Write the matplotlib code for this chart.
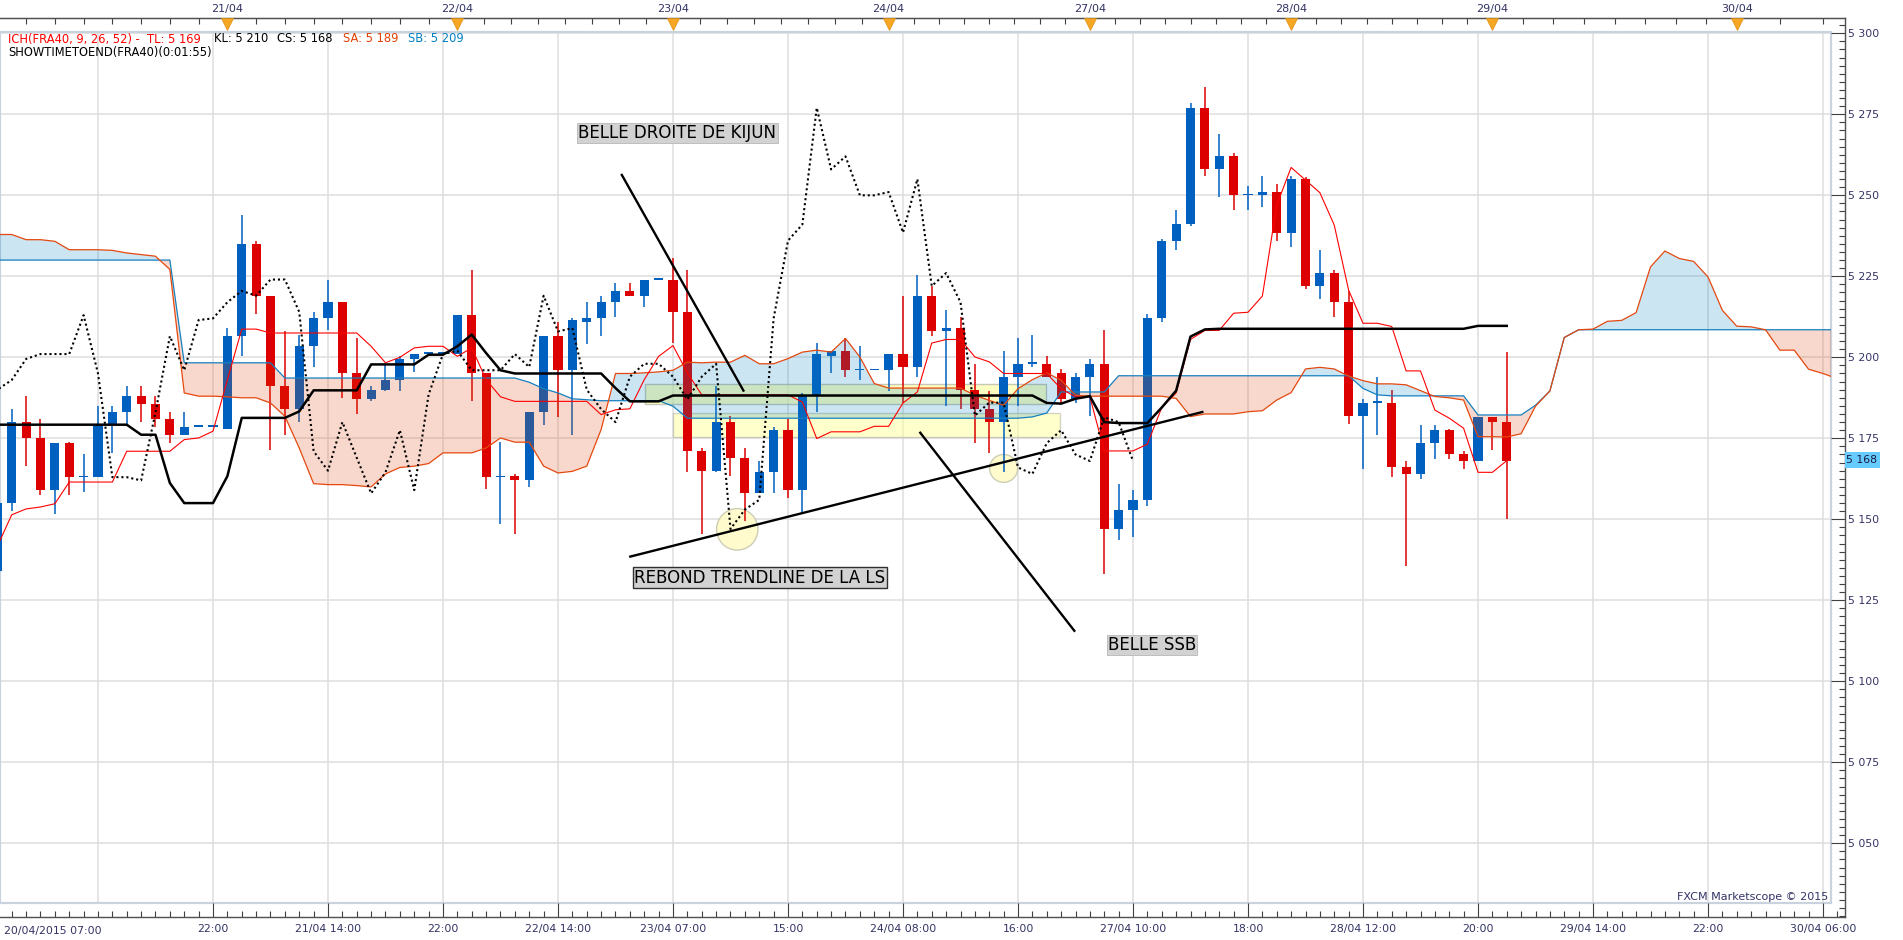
import numpy as np
import matplotlib
matplotlib.use("Agg")
import matplotlib.pyplot as plt
import matplotlib.transforms as mtransforms
from matplotlib.patches import Rectangle, Ellipse

plt.rcParams['font.family'] = ['DejaVu Sans']

# FRA40 candles, bar index -1 .. 104 (index based time axis like Marketscope)
bars = list(range(-1, 105))
opens = [5134, 5155, 5180, 5175, 5159, 5173.5, 5163, 5163, 5179.5, 5183,
         5188, 5185.5, 5181, 5176, 5178.5, 5178.5, 5178, 5206.5, 5235, 5219,
         5191, 5184, 5203.5, 5212, 5217, 5195, 5187, 5190, 5193, 5199.5,
         5201, 5201, 5201, 5213, 5195, 5163, 5163.5, 5162, 5183, 5206.5,
         5196, 5211, 5212, 5217, 5220.5, 5219, 5224, 5224, 5214, 5171,
         5165, 5180, 5169, 5158, 5164.5, 5177.5, 5159, 5188.5, 5200.5, 5202,
         5196, 5196, 5196, 5201, 5197, 5219, 5208, 5209, 5190, 5184,
         5180, 5194, 5198, 5198, 5195, 5187, 5194, 5198, 5147, 5153,
         5156, 5212, 5236, 5241, 5277, 5258, 5262, 5250, 5250, 5251,
         5238.5, 5255, 5222, 5226, 5217, 5182, 5186, 5186, 5166, 5164,
         5173.5, 5177.5, 5170, 5168, 5181.5, 5180]
highs = [5157, 5184, 5188, 5181, 5173.5, 5174, 5170, 5185, 5185, 5191,
         5191, 5188, 5183, 5183, 5178.5, 5178.5, 5209, 5244, 5236, 5219,
         5208, 5207, 5214, 5224, 5217, 5206, 5191, 5198, 5200.5, 5201,
         5201, 5201, 5213, 5227, 5195, 5174, 5164, 5183, 5206.5, 5211,
         5212, 5217, 5219, 5223, 5223, 5224, 5224, 5230.5, 5227, 5172,
         5191, 5182, 5172, 5168, 5178.5, 5181, 5189, 5204.5, 5202, 5206,
         5203.5, 5196, 5201, 5219, 5225.5, 5222, 5214.5, 5212.5, 5198, 5189.5,
         5202, 5206, 5207, 5200.5, 5196.5, 5195, 5199.5, 5208.5, 5161, 5159,
         5213.5, 5236.5, 5245.5, 5278.5, 5283.5, 5269, 5263, 5253, 5256, 5253.5,
         5256, 5255.5, 5233, 5227, 5220.5, 5187, 5194, 5190, 5168, 5179,
         5179, 5178, 5171, 5181.5, 5181.5, 5201.5]
lows = [5133, 5152.5, 5166.5, 5157.5, 5151.5, 5157.5, 5158.5, 5163, 5170.5, 5179,
        5180, 5178.5, 5173.5, 5176, 5178.5, 5178.5, 5178, 5200.5, 5213.5, 5171.5,
        5176, 5180, 5197, 5208.5, 5187.5, 5182.5, 5186.5, 5189.5, 5189.5, 5195.5,
        5201, 5201, 5201, 5186.5, 5159.5, 5148.5, 5145.5, 5160, 5179, 5181.5,
        5176, 5204, 5206.5, 5212.5, 5219, 5215.5, 5224, 5204.5, 5164.5, 5145.5,
        5164.5, 5163.5, 5149.5, 5158, 5158, 5156.5, 5152, 5183, 5195, 5194,
        5193, 5196, 5189.5, 5186, 5194, 5206.5, 5185, 5184, 5173.5, 5170.5,
        5164.5, 5185, 5197, 5194, 5186, 5186, 5182, 5133, 5143.5, 5144.5,
        5154, 5211, 5233, 5240.5, 5256, 5249.5, 5245.5, 5245.5, 5246.5, 5236,
        5234, 5221, 5218, 5212.5, 5179.5, 5165.5, 5176, 5163, 5135.5, 5162.5,
        5168.5, 5168.5, 5165.5, 5168, 5171.5, 5150]
closes = [5155, 5180, 5175, 5159, 5173.5, 5163, 5163, 5179, 5183, 5188,
          5185.5, 5181, 5176, 5178.5, 5178.5, 5178.5, 5206.5, 5235, 5219, 5191,
          5184, 5203.5, 5212, 5217, 5195, 5187, 5190, 5193, 5199.5, 5201,
          5201, 5201, 5213, 5195, 5163, 5163, 5162, 5183, 5206.5, 5196,
          5211.5, 5212, 5217, 5220.5, 5219, 5224, 5224, 5214, 5171, 5165,
          5180, 5169, 5158, 5164.5, 5177.5, 5159, 5188.5, 5201, 5202, 5196,
          5196, 5196, 5201, 5197, 5219, 5208, 5209, 5190, 5184, 5180,
          5194, 5198, 5198, 5194, 5187, 5194, 5198, 5147, 5153, 5156,
          5212, 5236, 5241, 5277, 5258, 5262, 5250, 5250, 5251, 5238.5,
          5255, 5222, 5226, 5217, 5182, 5186, 5186, 5166, 5164, 5173.5,
          5177.5, 5170, 5168, 5181.5, 5180, 5168]

# Ichimoku lines (same bar index)
tenkan = [5141.7, 5151.4, 5153.2, 5153.8, 5154.8, 5161.5, 5161.5, 5161.5, 5161.5, 5171.0,
          5171.0, 5171.0, 5171.0, 5174.6, 5175.1, 5177.2, 5193.0, 5208.7, 5208.7, 5207.5,
          5207.5, 5207.5, 5207.5, 5207.5, 5207.5, 5207.5, 5203.4, 5198.3, 5200.0, 5202.9,
          5203.4, 5203.4, 5200.3, 5202.9, 5193.1, 5187.8, 5186.4, 5186.4, 5186.4, 5186.4,
          5186.4, 5186.4, 5182.3, 5183.8, 5184.1, 5193.1, 5200.3, 5203.6, 5195.2, 5188.4,
          5188.4, 5188.4, 5188.4, 5188.4, 5188.4, 5188.4, 5186.2, 5174.9, 5177.0, 5177.0,
          5177.0, 5178.7, 5178.7, 5185.9, 5189.3, 5204.4, 5205.5, 5205.5, 5200.1, 5198.6,
          5195.0, 5195.0, 5195.0, 5195.0, 5190.3, 5187.8, 5187.8, 5171.1, 5171.1, 5171.1,
          5173.2, 5184.5, 5189.0, 5205.5, 5208.3, 5208.3, 5213.6, 5213.9, 5218.9, 5247.0,
          5258.6, 5254.7, 5250.8, 5240.8, 5220.7, 5210.5, 5210.5, 5209.5, 5195.8, 5195.8,
          5183.7, 5181.2, 5178.1, 5164.5, 5164.5, 5168.1]
kijun = [5179.2, 5179.2, 5179.2, 5179.2, 5179.2, 5179.2, 5179.2, 5179.2, 5179.2, 5179.2,
         5176.1, 5176.1, 5161.2, 5155.0, 5155.0, 5155.0, 5163.3, 5181.3, 5181.3, 5181.3,
         5181.3, 5183.3, 5189.8, 5189.8, 5189.8, 5189.8, 5197.8, 5197.8, 5197.8, 5197.8,
         5200.8, 5200.8, 5203.4, 5207.0, 5201.3, 5196.0, 5195.0, 5195.0, 5195.0, 5195.0,
         5195.0, 5195.0, 5195.0, 5190.5, 5186.4, 5186.4, 5186.4, 5188.2, 5188.2, 5188.2,
         5188.2, 5188.2, 5188.2, 5188.2, 5188.2, 5188.2, 5188.2, 5188.2, 5188.2, 5188.2,
         5188.2, 5188.2, 5188.2, 5188.2, 5188.2, 5188.2, 5188.2, 5188.2, 5188.2, 5188.2,
         5188.2, 5188.2, 5188.2, 5185.9, 5185.7, 5187.2, 5188.0, 5180.0, 5179.7, 5179.7,
         5179.7, 5184.5, 5189.7, 5206.4, 5208.6, 5208.8, 5208.8, 5208.8, 5208.8, 5208.8,
         5208.8, 5208.8, 5208.8, 5208.8, 5208.8, 5208.8, 5208.8, 5208.8, 5208.8, 5208.8,
         5208.8, 5208.8, 5208.8, 5209.7, 5209.7, 5209.7]

# senkou spans, drawn 26 bars ahead (bar -1 .. 128)
span_bars = list(range(-1, 129))
senkou_a = [5237.9, 5237.9, 5236.3, 5236.3, 5235.8, 5233.2, 5233.2, 5233.2, 5233.0, 5232.2,
            5231.7, 5231.2, 5227.1, 5189.0, 5188.0, 5188.0, 5187.8, 5187.5, 5187.5, 5185.9,
            5181.8, 5172.0, 5161.0, 5160.7, 5160.7, 5160.4, 5160.0, 5164.0, 5166.0, 5166.4,
            5167.2, 5170.5, 5170.5, 5170.5, 5172.0, 5175.1, 5173.8, 5173.8, 5166.4, 5164.3,
            5164.8, 5166.4, 5177.7, 5195.0, 5195.0, 5195.2, 5195.5, 5196.0, 5198.5, 5198.3,
            5198.5, 5198.5, 5200.6, 5198.0, 5198.0, 5199.6, 5201.6, 5202.2, 5201.6, 5205.8,
            5200.1, 5191.9, 5190.5, 5190.5, 5190.5, 5190.5, 5190.5, 5190.5, 5188.3, 5186.7,
            5185.2, 5190.3, 5193.1, 5195.2, 5192.9, 5188.3, 5188.0, 5188.0, 5188.0, 5188.0,
            5188.0, 5188.0, 5187.3, 5181.7, 5182.5, 5182.5, 5182.5, 5183.2, 5183.5, 5186.8,
            5189.1, 5196.4, 5196.9, 5196.4, 5194.2, 5192.8, 5191.8, 5191.8, 5191.5, 5189.7,
            5187.9, 5187.5, 5186.8, 5175.5, 5175.5, 5175.4, 5176.4, 5184.9, 5189.6, 5206.1,
            5208.5, 5208.7, 5211.1, 5211.4, 5213.8, 5227.9, 5232.8, 5230.5, 5229.6, 5224.8,
            5214.5, 5209.6, 5209.4, 5208.5, 5202.2, 5202.2, 5196.3, 5195.0, 5193.4, 5193.0]
senkou_b = [5230.0, 5230.0, 5230.0, 5230.0, 5230.0, 5230.0, 5230.0, 5230.0, 5230.0, 5230.0,
            5230.0, 5230.0, 5230.0, 5198.3, 5198.3, 5198.3, 5198.3, 5198.3, 5198.3, 5198.3,
            5193.6, 5193.6, 5193.6, 5193.6, 5193.6, 5193.6, 5193.6, 5193.6, 5193.6, 5193.6,
            5193.6, 5193.6, 5193.6, 5193.6, 5193.6, 5193.6, 5193.6, 5192.3, 5190.3, 5189.0,
            5187.2, 5186.9, 5186.6, 5186.6, 5186.6, 5186.6, 5186.6, 5184.9, 5181.2, 5181.2,
            5181.2, 5181.2, 5181.2, 5181.2, 5181.2, 5181.2, 5181.2, 5181.2, 5181.2, 5181.2,
            5181.2, 5181.2, 5181.2, 5181.2, 5181.2, 5181.2, 5181.2, 5181.2, 5181.2, 5181.2,
            5181.2, 5181.2, 5181.6, 5182.8, 5189.3, 5189.3, 5189.3, 5189.3, 5194.3, 5194.3,
            5194.3, 5194.3, 5194.3, 5194.3, 5194.3, 5194.3, 5194.3, 5194.3, 5194.3, 5194.3,
            5194.3, 5194.3, 5194.3, 5194.3, 5194.3, 5190.4, 5188.4, 5188.1, 5188.1, 5188.1,
            5188.1, 5188.1, 5188.1, 5182.2, 5182.2, 5182.2, 5182.2, 5185.2, 5189.6, 5206.1,
            5208.5, 5208.5, 5208.5, 5208.5, 5208.5, 5208.5, 5208.5, 5208.5, 5208.5, 5208.5,
            5208.5, 5208.5, 5208.5, 5208.5, 5208.5, 5208.5, 5208.5, 5208.5, 5208.5, 5208.5]

day_pos = [15, 31, 46, 61, 75, 89, 103, 120]
day_labels = ['21/04', '22/04', '23/04', '24/04', '27/04', '28/04', '29/04', '30/04']
time_pos = [14, 22, 30, 38, 46, 54, 62, 70, 78, 86, 94, 102, 110, 118, 126]
time_labels = ['22:00', '21/04 14:00', '22:00', '22/04 14:00', '23/04 07:00', '15:00',
               '24/04 08:00', '16:00', '27/04 10:00', '18:00', '28/04 12:00', '20:00',
               '29/04 14:00', '22:00', '30/04 06:00']
price_levels = [5050, 5075, 5100, 5125, 5150, 5175, 5200, 5225, 5250, 5275, 5300]

# hand drawn objects (bar, price)
kijun_line = ([42.4, 50.94], [5256.6, 5189.4])
trend_line = ([42.95, 82.9], [5138.4, 5183.2])
ssb_line = ([63.15, 73.97], [5177.0, 5115.3])

W, H = 1903, 940
NAVY = '#333366'
fig = plt.figure(figsize=(W / 100, H / 100), dpi=100)
ax = fig.add_axes([0, 23 / H, 1845 / W, 899 / H])
x0, x1 = -0.817, 127.53
y0, y1 = 5027.25, 5304.72
ax.set_xlim(x0, x1)
ax.set_ylim(y0, y1)
frame_r, frame_b, frame_t = 126.56, 5031.6, 5300.4

# grid inside the inner frame
ax.hlines(price_levels, x0, frame_r, color='#dedede', lw=1.1, zorder=0.5)
ax.vlines([6] + time_pos, frame_b, frame_t, color='#dedede', lw=1.1, zorder=0.5)
ax.add_patch(Rectangle((0, 14 / 899), 1831 / 1845, 871 / 899, transform=ax.transAxes,
                       fill=False, ec='#c9d2dd', lw=1.6, zorder=1))

# yellow zones and circles
ax.add_patch(Rectangle((44.05, 5185.6), 27.9, 6.3, fc='#FFFF99', alpha=0.6,
                       ec='#a0a0a0', lw=1, zorder=1.8))
ax.add_patch(Rectangle((46.02, 5175.3), 26.9, 7.6, fc='#FFFF99', alpha=0.5,
                       ec='#a8a8a8', lw=1, zorder=1.8))
ax.add_patch(Ellipse((50.47, 5146.9), 2.88, 12.8, fc='#FFFBC8', ec='#c8c8b0',
                     lw=1, alpha=0.9, zorder=1.7))
ax.add_patch(Ellipse((69.0, 5165.7), 1.95, 8.6, fc='#FFFBC8', ec='#c8c8b0',
                     lw=1, alpha=0.9, zorder=1.7))

# candles
x = np.array(bars)
o, h, l, c = (np.array(v, dtype=float) for v in (opens, highs, lows, closes))
col = np.where(c >= o, '#0060C0', '#DD0000')
ax.vlines(x, l, h, colors=col, lw=1.1, zorder=2)
body = np.maximum(np.abs(c - o), 0.5)
ax.bar(x, body, bottom=np.minimum(o, c), width=0.64, color=col, lw=0, zorder=2.5)

# kumo, drawn over the candles
clip = Rectangle((x0, frame_b), frame_r - x0, frame_t - frame_b, transform=ax.transData)
sx = np.array(span_bars)
sa = np.array(senkou_a)
sb = np.array(senkou_b)
arts = [ax.fill_between(sx, sa, sb, where=sa >= sb, interpolate=True,
                        color='#0080C0', alpha=0.2, lw=0, zorder=3),
        ax.fill_between(sx, sa, sb, where=sa < sb, interpolate=True,
                        color='#E04000', alpha=0.2, lw=0, zorder=3)]
arts += ax.plot(sx, sb, color='#1580C0', lw=0.9, zorder=4)
arts += ax.plot(sx, sa, color='#E5480F', lw=0.9, zorder=4.1)
for a in arts:
    a.set_clip_path(clip)

ax.plot(x, tenkan, color='#FF0000', lw=0.8, zorder=5)
ax.plot(x, kijun, color='black', lw=1.8, zorder=5)
ax.plot(x - 26, closes, color='black', lw=1.5, ls=(0, (1, 1.4)), zorder=5)

for xs, ys in (kijun_line, trend_line, ssb_line):
    ax.plot(xs, ys, color='black', lw=1.7, zorder=7, solid_capstyle='butt')

ax.text(46.29, 5269.2, 'BELLE DROITE DE KIJUN', fontsize=12, ha='center', va='center',
        zorder=8, bbox=dict(boxstyle='square,pad=0.08', fc='#d2d2d2', ec='#b8b8b8', lw=0.6))
ax.text(52.05, 5132.0, 'REBOND TRENDLINE DE LA LS', fontsize=12, ha='center', va='center',
        zorder=8, bbox=dict(boxstyle='square,pad=0.08', fc='#d2d2d2', ec='#303030', lw=1))
ax.text(79.32, 5111.2, 'BELLE SSB', fontsize=12, ha='center', va='center',
        zorder=8, bbox=dict(boxstyle='square,pad=0.08', fc='#d2d2d2', ec='#b8b8b8', lw=0.6))

# axes styling
for side in ('top', 'bottom', 'right'):
    ax.spines[side].set_color('#505050')
    ax.spines[side].set_linewidth(1)
ax.spines['left'].set_visible(False)

ax.yaxis.tick_right()
ax.set_yticks(price_levels, labels=[f"{v // 1000} {v % 1000:03d}" for v in price_levels])
ax.set_yticks(np.arange(5027.5, 5304, 2.5), minor=True)
ax.tick_params(axis='y', which='major', direction='in', length=10, width=0.8,
               color='#404040', labelsize=7.8, labelcolor=NAVY, pad=2)
ax.tick_params(axis='y', which='minor', direction='in', length=4.3, width=0.8, color='#404040')

ax.set_xticks(time_pos, labels=time_labels)
ax.set_xticks(np.arange(0, 128, 1), minor=True)
ax.tick_params(axis='x', which='major', direction='in', length=10, width=0.8,
               color='#404040', labelsize=7.8, labelcolor=NAVY, pad=5, top=False)
ax.tick_params(axis='x', which='minor', direction='in', length=4, width=0.8,
               color='#404040', top=False)
ax.text(0.002, -14 / 899, '20/04/2015 07:00', transform=ax.transAxes, ha='left',
        va='center', fontsize=7.8, color=NAVY)

top_minor = list(np.arange(1, 15, 2))
for a, b in zip(day_pos[:-1], day_pos[1:]):
    top_minor += list(np.linspace(a, b, 9)[1:-1])
top_minor += [123, 126]
top = ax.secondary_xaxis('top')
top.set_xticks(day_pos, labels=day_labels)
top.set_xticks(top_minor, minor=True)
top.tick_params(which='major', direction='in', length=0, pad=3, labelsize=8, labelcolor=NAVY)
top.tick_params(which='minor', direction='in', length=4.3, width=0.8, color='#404040')
top.spines['top'].set_color('#505050')

tr = mtransforms.blended_transform_factory(ax.transData, ax.transAxes)
ax.plot(day_pos, [(917 - 24) / 899] * len(day_pos), 'v', ms=8.5, color='#F5A623',
        mec='#E09010', mew=0.5, transform=tr, clip_on=False, zorder=10)

# last price marker on the scale
trp = mtransforms.blended_transform_factory(ax.transAxes, ax.transData)
ax.add_patch(Rectangle((1.0, 5168.3 - 2.47), 35 / 1845, 4.94, transform=trp,
                       fc='#66CCFF', ec='none', clip_on=False, zorder=10))
ax.text(1.0 + 1 / 1845, 5168.3, '5 168', transform=trp, ha='left', va='center',
        fontsize=7.8, color='#1a1a3a', zorder=11)

# header texts
y_a, y_b = 1 - 39 / H, 1 - 52.7 / H
fig.text(8 / W, y_a, 'ICH(FRA40, 9, 26, 52) -  TL: 5 169', color='#FF0000', fontsize=8.3, va='center')
fig.text(214 / W, y_a, 'KL: 5 210', color='black', fontsize=8.3, va='center')
fig.text(277 / W, y_a, 'CS: 5 168', color='black', fontsize=8.3, va='center')
fig.text(343 / W, y_a, 'SA: 5 189', color='#E04000', fontsize=8.3, va='center')
fig.text(408.5 / W, y_a, 'SB: 5 209', color='#0080C0', fontsize=8.3, va='center')
fig.text(8 / W, y_b, 'SHOWTIMETOEND(FRA40)(0:01:55)', color='black', fontsize=8.3, va='center')
fig.text(1828 / W, 1 - 897 / H, 'FXCM Marketscope © 2015', color=NAVY, fontsize=8,
         ha='right', va='center')

fig.savefig('out.png', dpi=100)
